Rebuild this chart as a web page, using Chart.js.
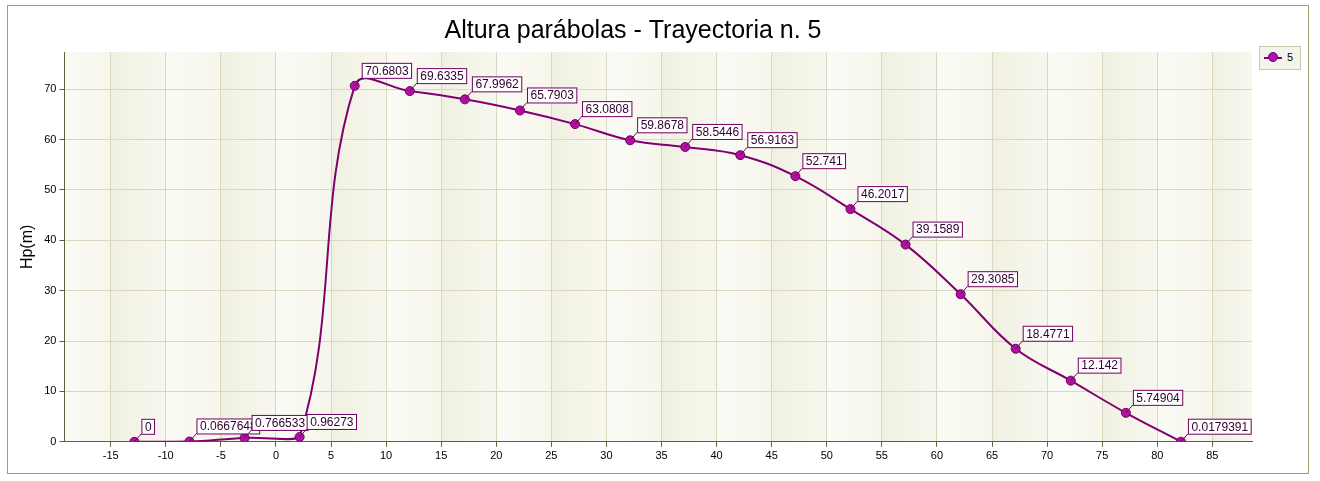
<!DOCTYPE html><html><head><script src="https://cdn.jsdelivr.net/npm/chart.js@4"></script>
<style>body{margin:0;background:#fff}#w{position:absolute;left:7px;top:5px;width:1302px;height:469px;border:1px solid #a0a070;box-sizing:border-box}
#lg{position:absolute;left:1259px;top:46px;width:40px;height:22px;border:1px solid #c8c8b0;background:#f4f4ea;font:11px "Liberation Sans";}
</style></head><body><div id="w"></div><canvas id="c" style="position:absolute;left:0;top:0"></canvas>
<div id="lg"><span style="position:absolute;left:4px;top:10px;width:18px;height:2px;background:#800080"></span><span style="position:absolute;left:8px;top:5px;width:10px;height:10px;border-radius:50%;background:#b010b0;border:1px solid #700070;box-sizing:border-box"></span><span style="position:absolute;left:27px;top:4px">5</span></div>
<script>
const xs=[-12.85,-7.85,-2.85,2.15,7.15,12.15,17.15,22.15,27.15,32.15,37.15,42.15,47.15,52.15,57.15,62.15,67.15,72.15,77.15,82.15];
const ys=[0,0.0667648,0.766533,0.96273,70.6803,69.6335,67.9962,65.7903,63.0808,59.8678,58.5446,56.9163,52.741,46.2017,39.1589,29.3085,18.4771,12.142,5.74904,0.0179391];
const labels=["0","0.0667648","0.766533","0.96273","70.6803","69.6335","67.9962","65.7903","63.0808","59.8678","58.5446","56.9163","52.741","46.2017","39.1589","29.3085","18.4771","12.142","5.74904","0.0179391"];
const F='"Liberation Sans",Arial';
const cv=document.getElementById('c');cv.width=1320;cv.height=481;cv.style.width='1320px';cv.style.height='481px';
const bands={id:'bands',beforeDraw(ch){const {ctx,chartArea:a,scales:{x}}=ch;ctx.save();
for(let v=-20;v<90;v+=10){let l=Math.max(x.getPixelForValue(v),a.left),m=x.getPixelForValue(v+5),r=Math.min(x.getPixelForValue(v+10),a.right);
let g=ctx.createLinearGradient(l,0,m,0);g.addColorStop(0,'#fbfbf6');g.addColorStop(1,'#f6f6ec');ctx.fillStyle=g;ctx.fillRect(l,a.top,Math.max(0,m-l),a.bottom-a.top);
g=ctx.createLinearGradient(m,0,r,0);g.addColorStop(0,'#f0f0e2');g.addColorStop(1,'#f7f7ee');ctx.fillStyle=g;if(r>m)ctx.fillRect(m,a.top,r-m,a.bottom-a.top);}
ctx.restore();}};
const lbl={id:'lbl',afterDatasetsDraw(ch){const ctx=ch.ctx,meta=ch.getDatasetMeta(0);ctx.save();ctx.font='12px '+F;
meta.data.forEach((p,i)=>{const t=labels[i],w=ctx.measureText(t).width+6,bx=p.x+7,by=p.y-23,h=15;
ctx.strokeStyle='#700060';ctx.lineWidth=1;ctx.beginPath();ctx.moveTo(p.x,p.y);ctx.lineTo(bx,by+h);ctx.stroke();
ctx.fillStyle='#fff';ctx.fillRect(bx+.5,by+.5,w,h);ctx.strokeRect(bx+.5,by+.5,w,h);ctx.fillStyle='#300030';ctx.textBaseline='middle';ctx.fillText(t,bx+3.5,by+h/2+1);});
ctx.restore();}};
new Chart(cv,{type:'scatter',data:{datasets:[{data:xs.map((x,i)=>({x,y:ys[i]})),showLine:true,tension:0.4,borderColor:'#800070',borderWidth:2,pointRadius:4.5,pointBackgroundColor:'#b010a0',pointBorderColor:'#700060',pointBorderWidth:1}]},
options:{responsive:false,animation:false,layout:{padding:{left:14,right:68,top:6,bottom:15}},
plugins:{legend:{display:false},tooltip:{enabled:false},title:{display:true,text:'Altura parábolas - Trayectoria n. 5',color:'#000',font:{size:25,family:F,weight:'normal'},padding:{top:10,bottom:6}}},
scales:{x:{type:'linear',min:-19.2,max:88.6,afterBuildTicks(s){s.ticks=[];for(let v=-15;v<=85;v+=5)s.ticks.push({value:v});},grid:{color:'#d8d8c0',drawTicks:true,tickLength:5,tickColor:'#606040'},border:{color:'#606040'},ticks:{color:'#000',font:{size:11,family:F},maxRotation:0}},
y:{min:0,max:77.4,afterBuildTicks(s){s.ticks=[];for(let v=0;v<=70;v+=10)s.ticks.push({value:v});},grid:{color:'#d8d8c0',tickLength:5,tickColor:'#606040'},border:{color:'#606040'},ticks:{color:'#000',font:{size:11,family:F}},title:{display:true,text:'Hp(m)',color:'#000',font:{size:16,family:F}}}}},
plugins:[bands,lbl]});
</script></body></html>
